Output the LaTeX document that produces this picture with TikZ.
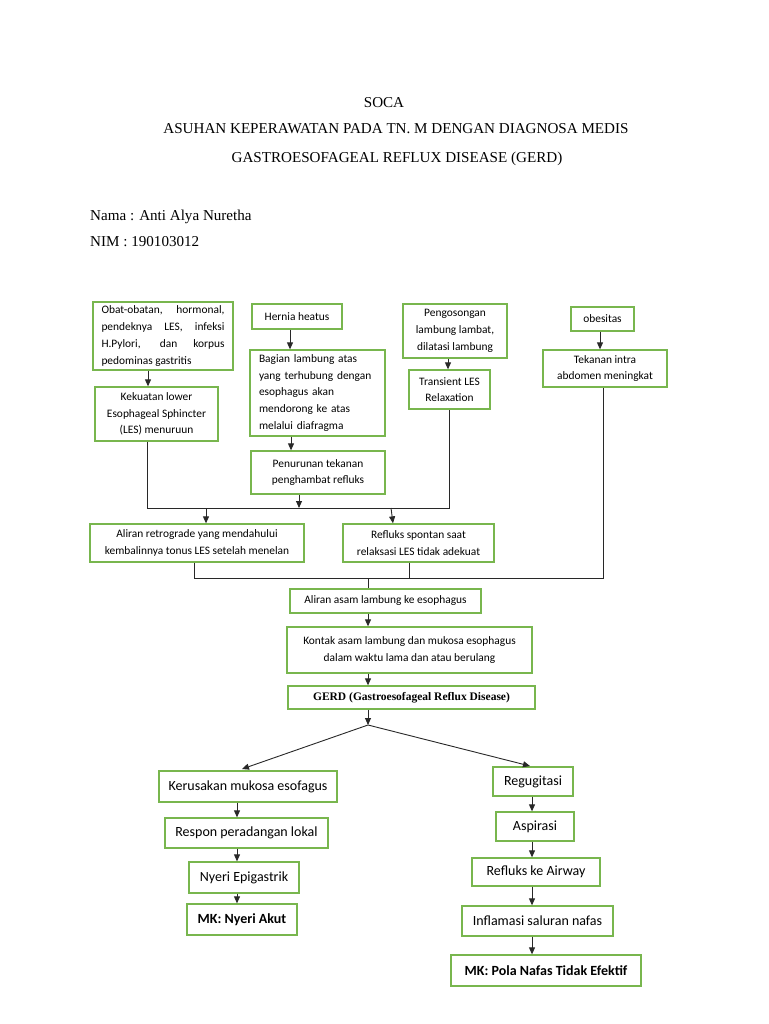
\documentclass[tikz,border=0pt]{standalone}
\usepackage{fontspec}
\setmainfont{Liberation Serif}
\newfontfamily\calfont{Carlito}
\usetikzlibrary{arrows.meta,calc}
\definecolor{boxgreen}{RGB}{120,182,78}
\definecolor{linegray}{RGB}{40,40,40}
\begin{document}
\begin{tikzpicture}[x=1pt,y=-1pt,
  box/.style={draw=boxgreen,line width=1.3pt,inner sep=0pt,align=center,
    font=\calfont\fontsize{11.4}{16.7}\selectfont},
  bigbox/.style={box,font=\calfont\fontsize{14}{17}\selectfont},
  title/.style={font=\fontsize{15.1}{18}\selectfont,inner sep=0pt},
  conn/.style={draw=linegray,line width=0.9pt},
  arr/.style={conn,-{Triangle[length=7pt,width=6pt]}}]
\useasboundingbox (0,0) rectangle (768,1024);
\fill[white] (0,0) rectangle (768,1024);

% titles
\node[title,anchor=base] (t1) at (384,108) {SOCA};
\node[title,anchor=base] (t2) at (396,134) {ASUHAN KEPERAWATAN PADA TN. M DENGAN DIAGNOSA MEDIS};
\node[title,anchor=base] (t3) at (397,163) {GASTROESOFAGEAL REFLUX DISEASE (GERD)};
\node[title,anchor=base west] (t4) at (90,221) {Nama : Anti Alya Nuretha};
\node[title,anchor=base west] (t5) at (90,247) {NIM : 190103012};

% top row
\node[box,minimum width=140pt,minimum height=68pt,align=left] (obat) at (163,336)
  {\makebox[123pt][s]{Obat-obatan, hormonal,}\\\makebox[123pt][s]{pendeknya LES, infeksi}\\\makebox[123pt][s]{H.Pylori, dan korpus}\\pedominas gastritis};
\node[box,minimum width=90pt,minimum height=25pt] (hernia) at (297,316.5) {Hernia heatus};
\node[box,minimum width=104pt,minimum height=54pt] (peng) at (455,331) {Pengosongan\\lambung lambat,\\dilatasi lambung};
\node[box,minimum width=63pt,minimum height=24pt] (obes) at (602.5,319) {obesitas};

\node[box,minimum width=123pt,minimum height=54pt] (kek) at (156.5,414) {Kekuatan lower\\Esophageal Sphincter\\(LES) menuruun};
\node[box,minimum width=135pt,minimum height=86pt,text width=117pt,align=left] (bag) at (317.5,393)
  {Bagian lambung atas\\yang terhubung dengan\\esophagus akan\\mendorong ke atas\\melalui diafragma};
\node[box,minimum width=81pt,minimum height=39pt] (trans) at (449.5,389.5) {Transient LES\\Relaxation};
\node[box,minimum width=124pt,minimum height=37pt] (tek) at (605,368.5) {Tekanan intra\\abdomen meningkat};
\node[box,minimum width=134pt,minimum height=43pt] (pen) at (318,472.5) {Penurunan tekanan\\penghambat refluks};

\node[box,minimum width=214pt,minimum height=38pt] (alr) at (197,543) {Aliran retrograde yang mendahului\\kembalinnya tonus LES setelah menelan};
\node[box,minimum width=151pt,minimum height=38pt] (ref) at (418.5,543) {Refluks spontan saat\\relaksasi LES tidak adekuat};

\node[box,minimum width=191pt,minimum height=24pt] (asam) at (385.5,601) {Aliran asam lambung ke esophagus};
\node[box,minimum width=245pt,minimum height=46pt] (kontak) at (409.5,650) {Kontak asam lambung dan mukosa esophagus\\dalam waktu lama dan atau berulang};
\node[box,minimum width=247pt,minimum height=23pt,font=\bfseries\fontsize{11.5}{14}\selectfont] (gerd) at (411.5,697.5) {GERD (Gastroesofageal Reflux Disease)};

% bottom
\node[bigbox,minimum width=178pt,minimum height=31pt] (ker) at (248,786.5) {Kerusakan mukosa esofagus};
\node[bigbox,minimum width=163pt,minimum height=30pt] (resp) at (246.5,833) {Respon peradangan lokal};
\node[bigbox,minimum width=110pt,minimum height=31pt] (nyeri) at (244,877.5) {Nyeri Epigastrik};
\node[bigbox,minimum width=110pt,minimum height=31pt,font=\calfont\bfseries\fontsize{14}{17}\selectfont] (mk1) at (242,919.5) {MK: Nyeri Akut};

\node[bigbox,minimum width=80pt,minimum height=29pt] (reg) at (533,781.5) {Regugitasi};
\node[bigbox,minimum width=78pt,minimum height=29pt] (asp) at (535,826.5) {Aspirasi};
\node[bigbox,minimum width=128pt,minimum height=28pt] (air) at (536,872) {Refluks ke Airway};
\node[bigbox,minimum width=151pt,minimum height=30pt] (infl) at (537.5,921) {Inflamasi saluran nafas};
\node[bigbox,minimum width=190pt,minimum height=31pt,font=\calfont\bfseries\fontsize{14}{17}\selectfont] (mk2) at (546,970.5) {MK: Pola Nafas Tidak Efektif};

% junction coordinates
\coordinate (j1L) at (147,508);
\coordinate (j1R) at (449,508);
\coordinate (j2L) at (194,578);
\coordinate (j2R) at (603,578);
\coordinate (split) at (368,725);

% top connectors
\draw[arr] ([xshift=-15pt]obat.south) -- ([xshift=-15pt]obat.south |- kek.north);
\draw[arr] ([xshift=-7pt]hernia.south) -- ([xshift=-7pt]hernia.south |- bag.north);
\draw[arr] ([xshift=-26.5pt]bag.south) -- ([xshift=-26.5pt]bag.south |- pen.north);
\draw[arr] ([xshift=-7pt]peng.south) -- ([xshift=-7pt]peng.south |- trans.north);
\draw[arr] ([xshift=-2.5pt]obes.south) -- ([xshift=-2.5pt]obes.south |- tek.north);

% merge 1
\draw[conn] (kek.south -| j1L) -- (j1L) -- (j1R) -- (trans.south -| j1R);
\draw[arr] ([xshift=-19pt]pen.south) -- ([xshift=-19pt]pen.south |- j1L);
\draw[arr] (206,508) -- (alr.north -| 206,0);
\draw[arr] (391,508) -- (ref.north -| 393,0);

% merge 2
\draw[conn] (alr.south -| j2L) -- (j2L) -- (j2R) -- (tek.south -| j2R);
\draw[conn] (ref.south -| 409,0) -- (409,578);
\draw[conn] (368,578) -- (asam.north -| 368,0);

\draw[arr] (asam.south -| 368,0) -- (kontak.north -| 368,0);
\draw[arr] (kontak.south -| 368,0) -- (gerd.north -| 368,0);
\draw[arr] (gerd.south -| 368,0) -- (split);
\draw[arr] (split) -- (242,769);
\draw[arr] (split) -- (530,766);

% left chain
\draw[arr] (ker.south -| 237,0) -- (resp.north -| 237,0);
\draw[arr] (resp.south -| 237,0) -- (nyeri.north -| 237,0);
\draw[arr] (nyeri.south -| 237,0) -- (mk1.north -| 237,0);

% right chain
\draw[arr] (reg.south -| 532,0) -- (asp.north -| 532,0);
\draw[arr] (asp.south -| 532,0) -- (air.north -| 532,0);
\draw[arr] (air.south -| 532,0) -- (infl.north -| 532,0);
\draw[arr] (infl.south -| 532,0) -- (mk2.north -| 532,0);
\end{tikzpicture}
\end{document}
